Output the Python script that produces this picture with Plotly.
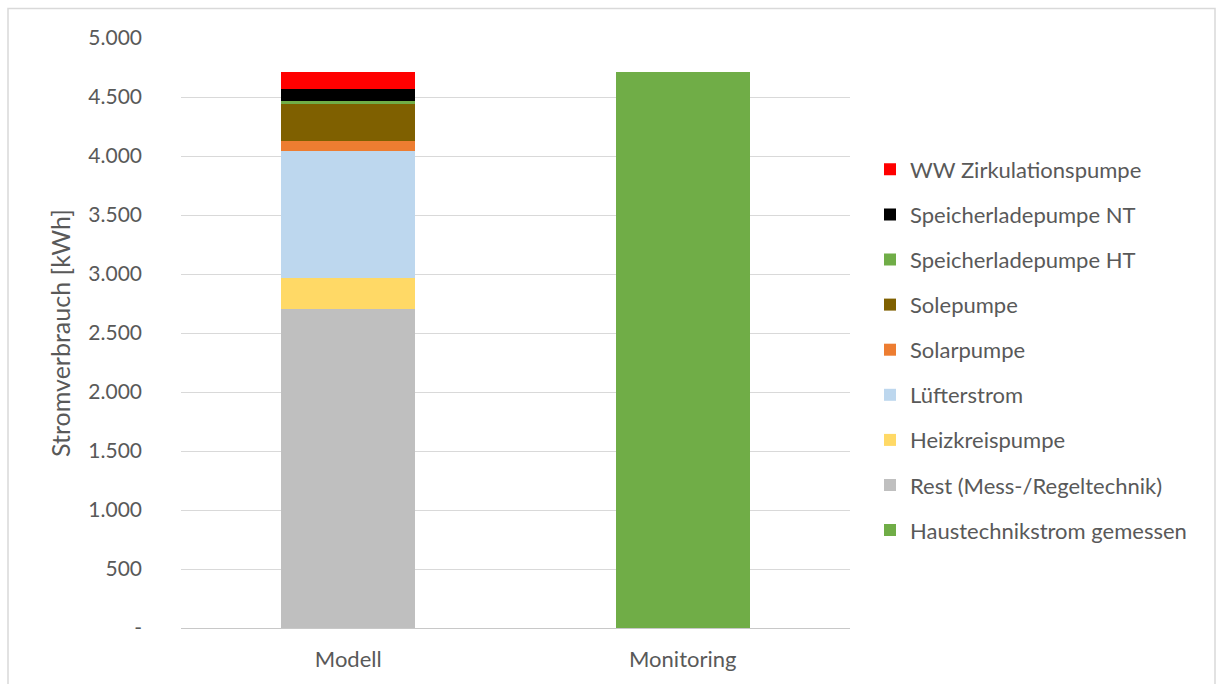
import plotly.graph_objects as go

# Categories on the x axis
categories = ["Modell", "Monitoring"]

# Modelled electricity use per component [kWh] (only for "Modell")
rest_mess_regel = 2700
heizkreispumpe = 262
luefterstrom = 1080
solarpumpe = 85
solepumpe = 314
speicherladepumpe_ht = 28
speicherladepumpe_nt = 100
ww_zirkulationspumpe = 145

# Measured building services electricity [kWh] (only for "Monitoring")
haustechnikstrom_gemessen = 4715

# Y axis ticks with German thousands separator
y_tickvals = [0, 500, 1000, 1500, 2000, 2500, 3000, 3500, 4000, 4500, 5000]
y_ticktext = ["-", "500", "1.000", "1.500", "2.000", "2.500", "3.000",
              "3.500", "4.000", "4.500", "5.000"]

# (legend name, value, colour) from the bottom of the stack upwards
model_components = [
    ("Rest (Mess-/Regeltechnik)", rest_mess_regel, "#BFBFBF"),
    ("Heizkreispumpe", heizkreispumpe, "#FFD966"),
    ("Lüfterstrom", luefterstrom, "#BDD7EE"),
    ("Solarpumpe", solarpumpe, "#ED7D31"),
    ("Solepumpe", solepumpe, "#7F6000"),
    ("Speicherladepumpe HT", speicherladepumpe_ht, "#70AD47"),
    ("Speicherladepumpe NT", speicherladepumpe_nt, "#000000"),
    ("WW Zirkulationspumpe", ww_zirkulationspumpe, "#FF0000"),
]

FONT = "Lato"
TEXT = "#595959"
n_items = len(model_components) + 1

fig = go.Figure()

# legend lists the top of the stack first and the measured value last
fig.add_trace(go.Bar(
    x=[categories[1]], y=[haustechnikstrom_gemessen],
    name="Haustechnikstrom gemessen", marker=dict(color="#70AD47", line=dict(width=0)),
    legendgroup="g0", legendrank=n_items,
))
for i, (name, val, col) in enumerate(model_components, start=1):
    fig.add_trace(go.Bar(
        x=[categories[0]], y=[val], name=name,
        marker=dict(color=col, line=dict(width=0)),
        legendgroup=f"g{i}", legendrank=n_items - i,
    ))

# plot area in pixels: x 181..850, y 38..628
L, R, T, B = 181, 850, 38, 628
W, H = 1217, 684
pw, ph = R - L, B - T

def px_x(p):
    return (p - L) / pw

def px_y(p):
    return (B - p) / ph

fig.update_layout(
    width=W, height=H,
    margin=dict(l=L, r=W - R, t=T, b=H - B, pad=0),
    paper_bgcolor="white", plot_bgcolor="white",
    barmode="stack", bargap=0.6,
    font=dict(family=FONT, color=TEXT, size=19),
    showlegend=True,
    legend=dict(
        traceorder="grouped",
        x=px_x(870), xanchor="left",
        y=px_y(350), yanchor="middle",
        font=dict(size=22, color=TEXT, family=FONT),
        tracegroupgap=13.5,
        bgcolor="rgba(0,0,0,0)",
    ),
    xaxis=dict(
        categoryorder="array", categoryarray=categories,
        showgrid=False, showline=False, ticks="",
        tickfont=dict(size=22, color=TEXT),
        ticklabelstandoff=16,
    ),
    yaxis=dict(
        range=[0, 5000],
        tickvals=y_tickvals, ticktext=y_ticktext,
        showgrid=True, gridcolor="#D9D9D9", gridwidth=1,
        zeroline=True, zerolinecolor="#C8C8C8", zerolinewidth=1,
        showline=False, ticks="",
        tickfont=dict(size=21, color=TEXT),
        ticklabelstandoff=38,
        title=dict(text="Stromverbrauch [kWh]", font=dict(size=25, color=TEXT), standoff=10),
    ),
    shapes=[dict(
        type="rect", xref="paper", yref="paper",
        x0=px_x(8), x1=px_x(1215), y0=px_y(700), y1=px_y(8.5),
        line=dict(color="#D9D9D9", width=1.5), fillcolor="rgba(0,0,0,0)",
        layer="below",
    )],
)

fig.write_html("out.html")
